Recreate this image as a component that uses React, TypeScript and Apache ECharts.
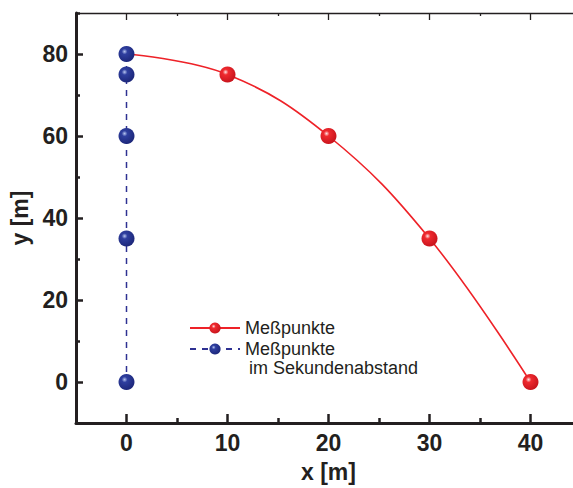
import React, { useEffect, useRef } from "react";
import * as echarts from "echarts";

const redX = [0, 10, 20, 30, 40];
const redY = [80, 75, 60, 35, 0];
const blueX = [0, 0, 0, 0, 0];
const blueY = [80, 75, 60, 35, 0];
const seriesNames = ["Meßpunkte", "Meßpunkte im Sekundenabstand"];
const legendLabels = ["Meßpunkte", "Meßpunkte"];
const legendSubLabel = "im Sekundenabstand";
const xName = "x [m]";
const yName = "y [m]";

const FONT = "'Liberation Sans', Arial, Helvetica, sans-serif";
const INK = "#231f20";

const sphere = (hi: string, mid: string, edge: string) => ({
  type: "radial",
  x: 0.38,
  y: 0.35,
  r: 0.7,
  colorStops: [
    { offset: 0, color: hi },
    { offset: 0.25, color: mid },
    { offset: 1, color: edge },
  ],
});

export default function App() {
  const ref = useRef<HTMLDivElement>(null);
  useEffect(() => {
    if (!ref.current) return;
    const chart = echarts.init(ref.current, undefined, { renderer: "svg" });
    const redColor = sphere("#ffe4e4", "#ef2a2f", "#c5121b");
    const blueColor = sphere("#b8c6f0", "#2f3f9f", "#1b2577");
    const axisCommon = {
      type: "value",
      splitLine: { show: false },
    };
    const noZero = { onZero: false };
    chart.setOption({
      animation: false,
      grid: { left: 76, top: 13, right: 9, bottom: 63, containLabel: false },
      legend: {
        orient: "vertical",
        left: 184,
        top: 314,
        itemWidth: 50,
        itemHeight: 14,
        itemGap: 3,
        data: seriesNames,
        formatter: (n: string) => legendLabels[seriesNames.indexOf(n)],
        textStyle: { fontFamily: FONT, fontSize: 18, color: INK, lineHeight: 18 },
      },
      graphic: [
        {
          type: "text",
          left: 249,
          top: 359,
          style: { text: legendSubLabel, font: `18px ${FONT}`, fill: INK },
        },
      ],
      xAxis: [
        {
          ...axisCommon,
          position: "bottom",
          min: -5,
          max: 45,
          splitNumber: 5,
          axisLine: { ...noZero, lineStyle: { color: INK, width: 3 } },
          axisTick: { inside: true, length: 9, lineStyle: { color: INK, width: 2.5 } },
          axisLabel: {
            margin: 8,
            color: INK,
            fontFamily: FONT,
            fontWeight: "bold",
            fontSize: 23,
            showMinLabel: false,
            showMaxLabel: false,
            formatter: (v: number) => (v % 10 === 0 ? String(v) : ""),
          },
          name: xName,
          nameLocation: "middle",
          nameGap: 37,
          nameTextStyle: { color: INK, fontFamily: FONT, fontWeight: "bold", fontSize: 23 },
        },
        {
          ...axisCommon,
          position: "bottom",
          min: -5,
          max: 45,
          interval: 10,
          axisLine: { show: false, ...noZero },
          axisTick: { inside: true, length: 5, lineStyle: { color: INK, width: 2.5 } },
          axisLabel: { show: false },
        },
        {
          ...axisCommon,
          position: "top",
          min: -5,
          max: 45,
          splitNumber: 5,
          axisLine: { ...noZero, lineStyle: { color: INK, width: 1.3 } },
          axisTick: { inside: true, length: 7, lineStyle: { color: INK, width: 1.3 } },
          axisLabel: { show: false },
        },
        {
          ...axisCommon,
          position: "top",
          min: -5,
          max: 45,
          interval: 10,
          axisLine: { show: false, ...noZero },
          axisTick: { inside: true, length: 3, lineStyle: { color: INK, width: 1.3 } },
          axisLabel: { show: false },
        },
      ],
      yAxis: [
        {
          ...axisCommon,
          position: "left",
          min: -10,
          max: 90,
          splitNumber: 5,
          axisLine: { ...noZero, lineStyle: { color: INK, width: 3 } },
          axisTick: { inside: true, length: 7, lineStyle: { color: INK, width: 2.5 } },
          axisLabel: {
            margin: 8,
            color: INK,
            fontFamily: FONT,
            fontWeight: "bold",
            fontSize: 23,
            showMinLabel: false,
            showMaxLabel: false,
            formatter: (v: number) => (v % 20 === 0 ? String(v) : ""),
          },
          name: yName,
          nameLocation: "middle",
          nameGap: 37,
          nameTextStyle: { color: INK, fontFamily: FONT, fontWeight: "bold", fontSize: 23 },
        },
        {
          ...axisCommon,
          position: "left",
          min: -10,
          max: 90,
          interval: 20,
          axisLine: { show: false, ...noZero },
          axisTick: { inside: true, length: 4, lineStyle: { color: INK, width: 2.5 } },
          axisLabel: { show: false },
        },
      ],
      series: [
        {
          name: seriesNames[0],
          type: "line",
          smooth: 0.4,
          symbol: "circle",
          symbolSize: 16,
          data: redX.map((x, i) =>
            i === 0 ? { value: [x, redY[i]], symbolSize: 0 } : [x, redY[i]]
          ),
          lineStyle: { color: "#ee2228", width: 1.6 },
          itemStyle: { color: redColor, borderWidth: 0 },
          z: 2,
        },
        {
          name: seriesNames[1],
          type: "line",
          symbol: "circle",
          symbolSize: 16,
          data: blueX.map((x, i) => [x, blueY[i]]),
          lineStyle: { color: "#2e3192", width: 1.5, type: [6, 6] },
          itemStyle: { color: blueColor, borderWidth: 0 },
          z: 3,
        },
      ],
    });
    return () => chart.dispose();
  }, []);
  return (
    <div style={{ position: "fixed", left: 0, top: 0, width: 573, height: 488, overflow: "hidden", background: "#fff" }}>
      <div ref={ref} style={{ width: 590, height: 488 }} />
    </div>
  );
}
